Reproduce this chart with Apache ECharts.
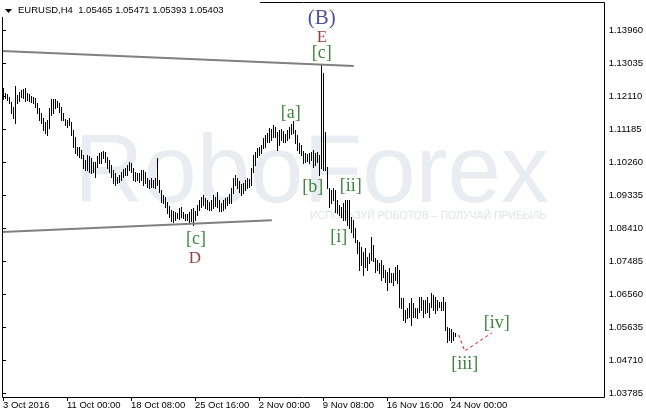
<!DOCTYPE html>
<html><head><meta charset="utf-8">
<script src="https://cdn.jsdelivr.net/npm/echarts@6/dist/echarts.min.js"></script>
<style>html,body{margin:0;padding:0;background:#fff;}#c{width:646px;height:414px;}</style>
</head><body><div id="c"></div>
<script>
// ---- data (H4 bars, index 0 = first visible bar) ----
const highs = [
1.1234,1.1220,1.1217,1.1208,1.1194,1.1180,1.1239,1.1214,1.1222,1.1228,
1.1231,1.1234,1.1220,1.1217,1.1211,1.1208,1.1206,1.1192,1.1178,1.1164,
1.1150,1.1138,1.1144,1.1178,1.1203,1.1203,1.1203,1.1197,1.1192,1.1180,
1.1164,1.1147,1.1144,1.1150,1.1138,1.1116,1.1096,1.1068,1.1068,1.1060,
1.1046,1.1032,1.1046,1.1043,1.1038,1.1026,1.1026,1.1043,1.1052,1.1054,
1.1057,1.1054,1.1040,1.1032,1.1018,1.1004,1.0996,1.0984,1.0990,1.0998,
1.1007,1.1010,1.1018,1.1026,1.1024,1.1010,1.0998,1.0996,1.0996,1.1004,
1.1004,1.0998,1.0982,1.0976,1.0982,1.0976,1.0982,1.1038,1.0976,1.0948,
1.0934,1.0928,1.0914,1.0903,1.0892,1.0889,1.0886,1.0884,1.0898,1.0900,
1.0886,1.0881,1.0881,1.0886,1.0895,1.0898,1.0889,1.0906,1.0920,1.0928,
1.0934,1.0926,1.0920,1.0914,1.0920,1.0934,1.0928,1.0942,1.0920,1.0912,
1.0920,1.0926,1.0928,1.0937,1.0954,1.0982,1.0990,1.0982,1.0973,1.0965,
1.0968,1.0976,1.0982,1.0979,1.1010,1.1046,1.1054,1.1066,1.1068,1.1074,
1.1094,1.1102,1.1108,1.1122,1.1119,1.1130,1.1124,1.1110,1.1116,1.1119,
1.1113,1.1105,1.1116,1.1124,1.1133,1.1141,1.1116,1.1102,1.1080,1.1074,
1.1057,1.1052,1.1049,1.1052,1.1054,1.1060,1.1052,1.1054,1.1046,1.1301,
1.1276,1.1110,1.1012,1.0954,1.0948,1.0954,1.0948,1.0920,1.0906,1.0900,
1.0912,1.0920,1.0920,1.0920,1.0872,1.0864,1.0842,1.0808,1.0802,1.0788,
1.0774,1.0786,1.0760,1.0772,1.0816,1.0794,1.0758,1.0752,1.0744,1.0752,
1.0738,1.0724,1.0718,1.0730,1.0716,1.0716,1.0732,1.0738,1.0724,1.0646,
1.0646,1.0612,1.0618,1.0632,1.0646,1.0632,1.0618,1.0618,1.0648,1.0648,
1.0640,1.0640,1.0648,1.0632,1.0660,1.0654,1.0648,1.0640,1.0634,1.0634,
1.0648,1.0634,1.0564,1.0562,1.0559,1.0550,1.05471
];
const lows = [
1.1203,1.1206,1.1200,1.1192,1.1164,1.1150,1.1136,1.1192,1.1197,1.1208,
1.1206,1.1197,1.1200,1.1197,1.1194,1.1192,1.1180,1.1164,1.1144,1.1136,
1.1116,1.1108,1.1102,1.1122,1.1158,1.1164,1.1178,1.1180,1.1166,1.1144,
1.1144,1.1130,1.1124,1.1130,1.1102,1.1068,1.1052,1.1046,1.1040,1.1038,
1.1010,1.1004,1.1004,1.0998,1.0996,1.0998,1.0984,1.1012,1.1024,1.1024,
1.1038,1.1026,1.1010,1.0998,1.0984,1.0968,1.0962,1.0968,1.0970,1.0976,
1.0984,1.0990,1.0990,1.1004,1.0998,1.0976,1.0973,1.0976,1.0970,1.0976,
1.0962,1.0968,1.0956,1.0954,1.0956,1.0956,1.0954,1.0962,1.0942,1.0914,
1.0912,1.0900,1.0884,1.0872,1.0861,1.0858,1.0864,1.0870,1.0867,1.0872,
1.0870,1.0864,1.0864,1.0858,1.0861,1.0850,1.0864,1.0878,1.0892,1.0900,
1.0906,1.0898,1.0895,1.0892,1.0892,1.0898,1.0903,1.0900,1.0889,1.0889,
1.0892,1.0898,1.0906,1.0912,1.0912,1.0940,1.0962,1.0954,1.0942,1.0934,
1.0940,1.0948,1.0954,1.0956,1.0962,1.0998,1.1018,1.1040,1.1046,1.1052,
1.1066,1.1068,1.1082,1.1082,1.1088,1.1096,1.1096,1.1060,1.1074,1.1088,
1.1082,1.1082,1.1088,1.1094,1.1105,1.1108,1.1080,1.1060,1.1052,1.1046,
1.1024,1.1026,1.1029,1.1024,1.1032,1.1012,1.1018,1.1026,1.0990,1.1010,
1.1004,1.1004,1.0954,1.0900,1.0912,1.0920,1.0886,1.0884,1.0878,1.0872,
1.0864,1.0864,1.0850,1.0842,1.0830,1.0816,1.0802,1.0772,1.0724,1.0738,
1.0710,1.0732,1.0724,1.0744,1.0752,1.0749,1.0718,1.0724,1.0716,1.0696,
1.0704,1.0690,1.0668,1.0690,1.0690,1.0682,1.0696,1.0688,1.0620,1.0618,
1.0584,1.0578,1.0590,1.0592,1.0570,1.0592,1.0592,1.0590,1.0606,1.0612,
1.0592,1.0604,1.0606,1.0592,1.0620,1.0612,1.0604,1.0612,1.0620,1.0612,
1.0612,1.0556,1.0522,1.0528,1.0522,1.0528,1.05393
];
const symbolName = 'EURUSD,H4';
const headerOHLC = [1.05465, 1.05471, 1.05393, 1.05403];
const lastPrice = 1.05403;

const xTickIdx = [0, 32, 64, 96, 128, 160, 192, 224];
const xTickLabels = ['3 Oct 2016','11 Oct 00:00','18 Oct 08:00','25 Oct 16:00','2 Nov 00:00','9 Nov 08:00','16 Nov 16:00','24 Nov 00:00'];
const yTickVals = [1.03785,1.04710,1.05635,1.06560,1.07485,1.08410,1.09335,1.10260,1.11185,1.12110,1.13035,1.13960];

const upperLine = [[-0.5, 1.13372], [175.5, 1.12952]];
const lowerLine = [[-0.5, 1.08304], [134.5, 1.08632]];
const forecastPath = [[228, 1.0542], [231, 1.0497], [244.5, 1.0548]];

const annTexts = ['(B)','E','[c]','[a]','[b]','[ii]','[i]','[c]','D','[iii]','[iv]'];
const annIdx   = [159.5, 159.5, 159.5, 144, 155, 174, 168, 96.5, 96, 231, 247];
const annPrice = [1.14296, 1.13736, 1.13316, 1.11636, 1.09564, 1.09592, 1.08164, 1.08108, 1.07548, 1.04608, 1.05756];
const annKind  = ['primary','intermediate','minor','minor','minor','minor','minor','minor','intermediate','minor','minor'];

// ---- styles ----
const kindStyle = {
  primary: {color:'#26267f', fontSize:21},
  intermediate: {color:'#7a1212', fontSize:17},
  minor: {color:'#0c660c', fontSize:18}
};
const uiFont = '"Liberation Sans", Arial, sans-serif';

const chart = echarts.init(document.getElementById('c'));
const option = {
  animation: false,
  backgroundColor: '#fff',
  grid: {left: 2, right: 42, top: 2, bottom: 17, containLabel: false},
  xAxis: {
    type: 'value', min: -0.5, max: 300.5,
    axisLine: {show: false},
    splitLine: {show: false},
    axisTick: {show: true, customValues: xTickIdx, length: 4, lineStyle: {color: '#000'}},
    axisLabel: {
      customValues: xTickIdx, align: 'left', margin: 3,
      fontFamily: uiFont, fontSize: 9.5, color: '#000',
      formatter: v => { const k = xTickIdx.indexOf(v); return k >= 0 ? xTickLabels[k] : ''; }
    }
  },
  yAxis: {
    type: 'value', position: 'right', min: 1.03684, max: 1.14744,
    axisLine: {show: false},
    splitLine: {show: false},
    axisTick: {show: true, customValues: yTickVals, length: 3, lineStyle: {color: '#000'}},
    axisLabel: {
      customValues: yTickVals, margin: 5,
      fontFamily: uiFont, fontSize: 9.5, color: '#000',
      formatter: v => v.toFixed(5)
    }
  },
  graphic: [
    {type:'text', z: 0, left: 74, top: 128, silent: true,
     style:{text:'RoboForex', font:'normal 96px "Liberation Sans", Arial, sans-serif', fill:'#e9edf2'}},
    {type:'text', z: 0, left: 310, top: 211, silent: true,
     style:{text:'ИСПОЛЬЗУЙ РОБОТОВ – ПОЛУЧАЙ ПРИБЫЛЬ', font:'10.5px "Liberation Sans", Arial, sans-serif', fill:'#e0e4ea'}},
    {type:'rect', z: 50, silent: true, shape:{x:2.5, y:2.5, width:602, height:395},
     style:{fill:null, stroke:'#000', lineWidth:1}},
    {type:'rect', z: 60, silent: true, shape:{x:0, y:0, width:260, height:17}, style:{fill:'#fff'}},
    {type:'polygon', z: 61, silent: true, shape:{points:[[5,9],[12,9],[8.5,13]]}, style:{fill:'#000'}},
    {type:'text', z: 61, silent: true, left: 18, top: 5,
     style:{text: symbolName + '  ' + headerOHLC.map(v => v.toFixed(5)).join(' '), font:'9.5px "Liberation Sans", Arial, sans-serif', fill:'#000'}}
  ],
  series: [
    {
      type: 'custom', z: 3, clip: true,
      encode: {x: 0, y: [1, 2]},
      data: highs.map((h, i) => [i, h, lows[i]]),
      renderItem: (params, api) => {
        const a = api.coord([api.value(0), api.value(1)]);
        const b = api.coord([api.value(0), api.value(2)]);
        const px = Math.round(a[0]) + 0.5;
        return {type:'line', shape:{x1:px, y1:Math.round(a[1]), x2:px, y2:Math.round(b[1]) + 1},
                style:{stroke:'#000', lineWidth:1}};
      }
    },
    {type:'line', z: 4, data: upperLine, symbol:'none', lineStyle:{color:'#808080', width:2}, silent:true},
    {type:'line', z: 4, data: lowerLine, symbol:'none', lineStyle:{color:'#808080', width:2}, silent:true},
    {type:'line', z: 4, data: forecastPath, symbol:'none', silent:true,
     lineStyle:{color:'#ff0000', width:1, type:[3,3]},
     markLine: {silent:true, symbol:'none', data:[{yAxis: lastPrice}],
       lineStyle:{opacity:0},
       label:{position:'end', distance:2, formatter: lastPrice.toFixed(5), color:'#fff', backgroundColor:'#000',
              padding:[2,3,1,3], fontFamily: uiFont, fontSize: 9.5}}},
    {type:'scatter', z: 6, symbolSize: 0, silent: true,
     data: annTexts.map((t, k) => ({
       value: [annIdx[k], annPrice[k]],
       label: {show:true, position:'inside', formatter: t,
               fontFamily:'"Liberation Serif", "Times New Roman", serif',
               color: kindStyle[annKind[k]].color, fontSize: kindStyle[annKind[k]].fontSize}
     }))}
  ]
};
chart.setOption(option);
</script></body></html>
